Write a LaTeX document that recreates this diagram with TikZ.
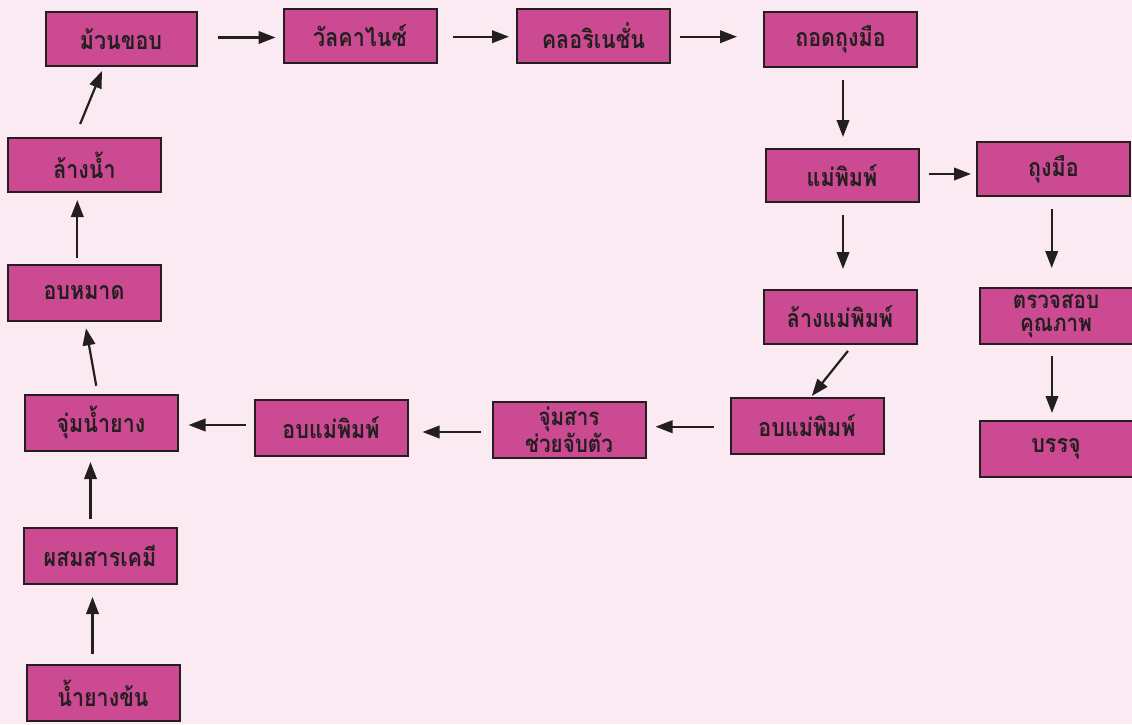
\documentclass[tikz,border=0pt]{standalone}
\usepackage{fontspec}
\newfontfamily\thaifont[Script=Thai,FakeStretch=0.86]{Loma}
\usetikzlibrary{arrows.meta}
\definecolor{bgpink}{HTML}{FCEAF3}
\definecolor{boxfill}{HTML}{CC4A91}
\definecolor{boxline}{HTML}{231F20}
\tikzset{
  stepbox/.style={draw=boxline, line width=2pt, fill=boxfill, minimum width=153pt, minimum height=54pt,
    inner sep=0pt, align=center, text=boxline, font=\thaifont\bfseries\fontsize{25}{23}\selectfont},
  twoline/.style={font=\thaifont\bfseries\fontsize{24}{23}\selectfont},
  arr/.style={draw=boxline, line width=2.2pt, -{Triangle[length=17pt,width=12.5pt]}},
}
\begin{document}
\begin{tikzpicture}[x=1pt,y=-1pt]
\fill[bgpink] (0,0) rectangle (1132,724);
\useasboundingbox (0,0) rectangle (1132,724);
% nodes
\node[stepbox, minimum width=151pt] (n1) at (121,39) {ม้วนขอบ};
\node[stepbox] (n2) at (360,36) {วัลคาไนซ์};
\node[stepbox] (n3) at (593.5,35.5) {คลอริเนชั่น};
\node[stepbox, minimum height=55pt] (n4) at (840.5,39.5) {ถอดถุงมือ};
\node[stepbox, minimum height=53pt] (n5) at (842,175.5) {แม่พิมพ์};
\node[stepbox] (n6) at (1053.5,169) {ถุงมือ};
\node[stepbox] (n7) at (840,317) {ล้างแม่พิมพ์};
\node[stepbox, twoline, minimum height=56pt] (n8) at (1056,316) {ตรวจสอบ\\คุณภาพ};
\node[stepbox, minimum height=56pt] (n9) at (1056,449) {บรรจุ};
\node[stepbox, minimum height=56pt] (n10) at (807,426) {อบแม่พิมพ์};
\node[stepbox, twoline, minimum height=56pt] (n11) at (569,430) {จุ่มสาร\\ช่วยจับตัว};
\node[stepbox, minimum height=56pt] (n12) at (331,428) {อบแม่พิมพ์};
\node[stepbox, minimum height=56pt] (n13) at (101,423) {จุ่มน้ำยาง};
\node[stepbox, minimum height=56pt] (n14) at (100,556) {ผสมสารเคมี};
\node[stepbox, minimum height=56pt] (n15) at (103,693) {น้ำยางข้น};
\node[stepbox, minimum height=56pt] (n16) at (84,293) {อบหมาด};
\node[stepbox] (n17) at (84.5,165) {ล้างน้ำ};
% connectors
\draw[arr, shorten <=10pt, shorten >=12pt] ([xshift=-10.5pt]n15.north) -- ([xshift=-7.5pt]n14.south);
\draw[arr, shorten <=8pt, shorten >=10pt] ([xshift=-9.5pt]n14.north) -- ([xshift=-10.5pt]n13.south);
\draw[arr, shorten <=8.4pt, shorten >=6.4pt] ([xshift=-3.3pt]n13.north) -- ([xshift=0.9pt]n16.south);
\draw[arr, shorten <=6pt, shorten >=7pt] ([xshift=-6.7pt]n16.north) -- ([xshift=-7.2pt]n17.south);
\draw[arr, shorten <=14pt, shorten >=4.3pt] ([xshift=-9.7pt]n17.north) -- ([xshift=-17.4pt]n1.south);
\draw[arr, shorten <=20pt, shorten >=7pt] ([yshift=1.5pt]n1.east) -- ([yshift=1.5pt]n1.east -| n2.west);
\draw[arr, shorten <=15.5pt, shorten >=7pt] ([yshift=-0.7pt]n2.east) -- ([yshift=-0.7pt]n2.east -| n3.west);
\draw[arr, shorten <=9pt, shorten >=26pt] ([yshift=-1.2pt]n3.east) -- ([yshift=-1.2pt]n3.east -| n4.west);
\draw[arr, shorten <=12pt, shorten >=11pt] ([xshift=2.5pt]n4.south) -- ([xshift=1pt]n5.north);
\draw[arr, shorten <=9pt, shorten >=5pt] ([yshift=1.5pt]n5.east) -- ([yshift=1.5pt]n5.east -| n6.west);
\draw[arr, shorten <=12pt, shorten >=20pt] ([xshift=1pt]n5.south) -- ([xshift=1pt]n5.south |- n7.north);
\draw[arr, shorten <=12pt, shorten >=19pt] ([xshift=-1.8pt]n6.south) -- ([xshift=-1.8pt]n6.south |- n8.north);
\draw[arr, shorten <=11pt, shorten >=7pt] ([xshift=-4pt]n8.south) -- ([xshift=-4pt]n9.north);
\draw[arr, shorten <=7.6pt, shorten >=1.3pt] ([xshift=12.7pt]n7.south) -- ([xshift=4pt]n10.north);
\draw[arr, shorten <=16pt, shorten >=9pt] ([yshift=-0.7pt]n10.west) -- ([yshift=-0.7pt]n10.west -| n11.east);
\draw[arr, shorten <=11pt, shorten >=14pt] ([yshift=-2pt]n11.west) -- ([yshift=-2pt]n11.west -| n12.east);
\draw[arr, shorten <=8pt, shorten >=10pt] ([yshift=3pt]n12.west) -- ([yshift=3pt]n12.west -| n13.east);
\end{tikzpicture}
\end{document}
